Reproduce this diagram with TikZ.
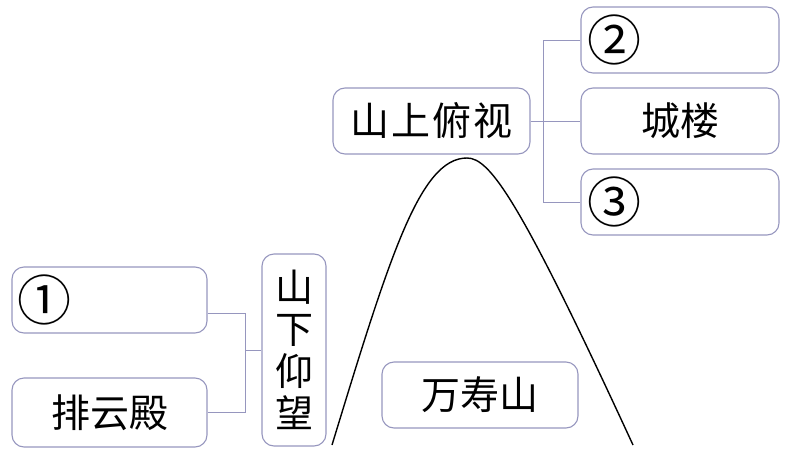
\documentclass[tikz,border=0pt]{standalone}
\usepackage{fontspec}
\newfontfamily\cjk{Noto Sans CJK SC}
\definecolor{boxline}{RGB}{150,150,190}
\begin{document}
\begin{tikzpicture}[x=1pt,y=-1pt,
  box/.style={draw=boxline,line width=1.1pt,rounded corners=12pt,inner sep=0pt,
    font=\cjk\fontsize{39}{42}\selectfont},
  numbox/.style={box,minimum width=198pt,minimum height=66pt,text width=186pt,align=left,
    font=\cjk\fontsize{54}{56}\selectfont},
  conn/.style={draw=boxline,line width=0.9pt},
  hill/.style={draw=black,line width=1.4pt}]
\useasboundingbox (0,0) rectangle (789,455);
% mountain
\draw[hill] (332,445) .. controls (390,255) and (420,158) .. (467,158)
  .. controls (490,158) and (520,200) .. (633,445);
% top group
\node[box,minimum width=197pt,minimum height=66pt] (top) at (431.5,121) {山\kern2pt 上\kern2pt 俯\kern2pt 视};
\node[numbox] (n2) at (680,40) {②};
\node[box,minimum width=198pt,minimum height=66pt] (cl) at (680,121) {城楼};
\node[numbox] (n3) at (680,202) {③};
\coordinate (jR) at (543,121);
\draw[conn] (top.east) -- (cl.west);
\draw[conn] (n2.west) -- (n2.west -| jR) -- (n3.west -| jR) -- (n3.west);
% left group
\node[numbox,minimum width=195pt,text width=185pt] (n1) at (109.5,300) {①};
\node[box,minimum width=195pt,minimum height=69pt] (pyd) at (109.5,412.5) {排云殿};
\node[box,minimum width=64pt,minimum height=192pt,align=center,
  font=\cjk\fontsize{38}{42}\selectfont] (sx) at (294,350) {山\\下\\仰\\望};
\coordinate (jL) at (245,350);
\draw[conn] ([yshift=-13pt]n1.east) -- ([yshift=-13pt]n1.east -| jL) -- (pyd.east -| jL) -- (pyd.east);
\draw[conn] (jL) -- (jL -| sx.west);
% mountain label
\node[box,minimum width=196pt,minimum height=66pt] (wss) at (480,395) {万寿山};
\end{tikzpicture}
\end{document}
